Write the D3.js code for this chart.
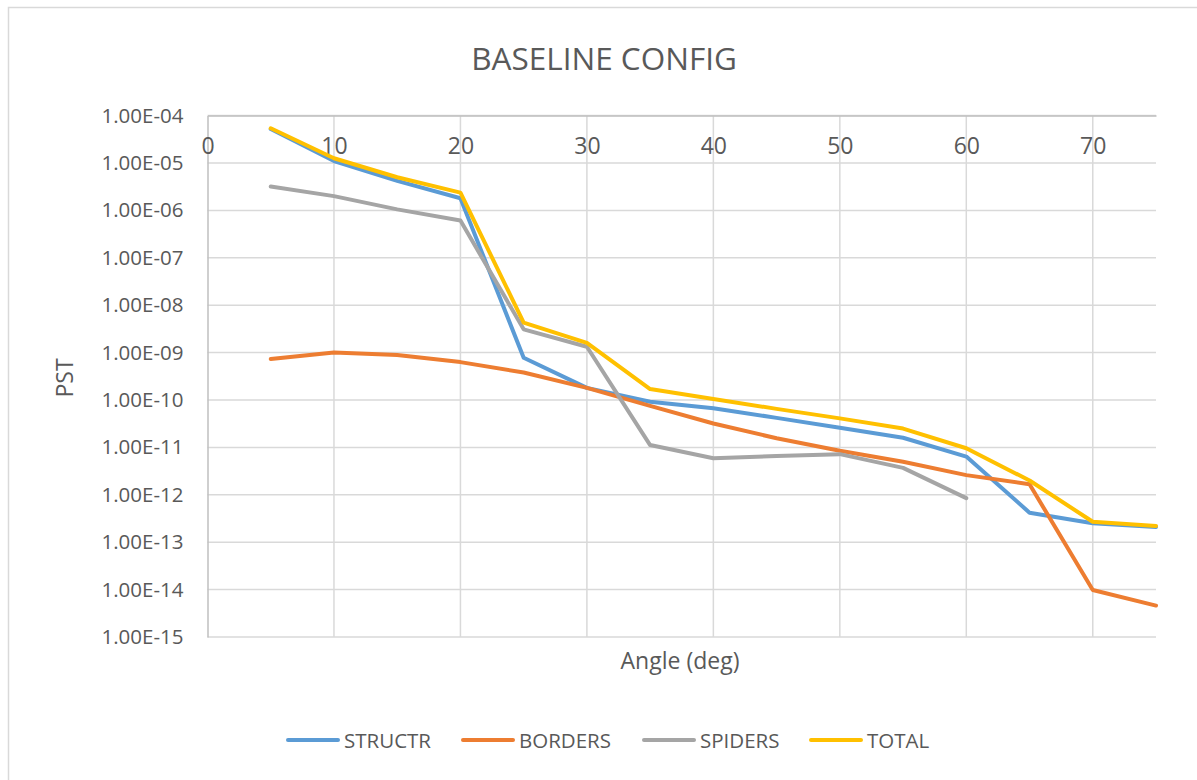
<!DOCTYPE html>
<html>
<head>
<meta charset="utf-8">
<script src="https://cdn.jsdelivr.net/npm/d3@7"></script>
<style>
  html, body { margin: 0; padding: 0; background: #fff; }
  svg { display: block; font-family: "Open Sans", "Liberation Sans", sans-serif; }
</style>
</head>
<body>
<svg id="chart" width="1197" height="780"></svg>
<script>
// Angles (deg) at which PST was evaluated
const angles = [5, 10, 15, 20, 25, 30, 35, 40, 45, 50, 55, 60, 65, 70, 75];

// PST contributions per source
const structr = [5.2e-5, 1.1e-5, 4.2e-6, 1.8e-6, 7.8e-10, 1.8e-10, 9.2e-11, 6.7e-11, 4.2e-11, 2.6e-11, 1.6e-11, 6.4e-12, 4.2e-13, 2.5e-13, 2.1e-13];
const borders = [7.3e-10, 1.0e-9, 8.9e-10, 6.3e-10, 3.8e-10, 1.8e-10, 7.5e-11, 3.2e-11, 1.56e-11, 8.5e-12, 5.0e-12, 2.6e-12, 1.67e-12, 9.8e-15, 4.6e-15];
const spiders = [3.2e-6, 2.0e-6, 1.05e-6, 6.1e-7, 3.1e-9, 1.33e-9, 1.12e-11, 5.9e-12, 6.6e-12, 7.2e-12, 3.7e-12, 8.5e-13, null, null, null];
const total   = [5.4e-5, 1.26e-5, 5.0e-6, 2.37e-6, 4.3e-9, 1.6e-9, 1.7e-10, 1.05e-10, 6.5e-11, 4.1e-11, 2.5e-11, 9.6e-12, 2.0e-12, 2.7e-13, 2.2e-13];

const seriesNames  = ["STRUCTR", "BORDERS", "SPIDERS", "TOTAL"];
const seriesColors = ["#5B9BD5", "#ED7D31", "#A5A5A5", "#FFC000"];
const seriesValues = [structr, borders, spiders, total];

const xTicks = [0, 10, 20, 30, 40, 50, 60, 70];
const yTicks = [1e-4, 1e-5, 1e-6, 1e-7, 1e-8, 1e-9, 1e-10, 1e-11, 1e-12, 1e-13, 1e-14, 1e-15];

const svg = d3.select("#chart");
const textColor = "#595959";
const gridColor = "#d9d9d9";

// Chart frame
svg.append("rect")
  .attr("x", 8.5).attr("y", 7.5)
  .attr("width", 1200).attr("height", 800)
  .attr("fill", "#fff")
  .attr("stroke", "#d9d9d9").attr("stroke-width", 1.5);

const x = d3.scaleLinear().domain([0, 75]).range([207.5, 1156]);
const y = d3.scaleLog().domain([1e-15, 1e-4]).range([637, 115.6]);

// Scientific label: 1.00E-04
const sci = v => {
  const s = d3.format(".2e")(v);           // e.g. 1.00e-4
  const [m, e] = s.split("e");
  const sign = e[0] === "-" ? "-" : "+";
  const digits = e.replace(/^[-+]/, "").padStart(2, "0");
  return m + "E" + sign + digits;
};

// Horizontal gridlines
svg.append("g")
  .selectAll("line")
  .data(yTicks)
  .join("line")
  .attr("x1", x(0)).attr("x2", x(75))
  .attr("y1", d => y(d)).attr("y2", d => y(d))
  .attr("stroke", gridColor).attr("stroke-width", 1.5);

// Vertical gridlines
svg.append("g")
  .selectAll("line")
  .data(xTicks.filter(d => d > 0))
  .join("line")
  .attr("x1", d => x(d)).attr("x2", d => x(d))
  .attr("y1", y(1e-4)).attr("y2", y(1e-15))
  .attr("stroke", gridColor).attr("stroke-width", 1.5);

// Value axis (left)
const yAxis = svg.append("g")
  .attr("transform", `translate(${x(0)},0)`)
  .call(d3.axisLeft(y).tickValues(yTicks).tickFormat(sci).tickSize(0).tickPadding(24));
yAxis.select(".domain").attr("stroke", "#bfbfbf").attr("stroke-width", 1.5);
yAxis.selectAll("text")
  .attr("fill", textColor)
  .style("font-size", "20.5px")
  .style("font-family", "'Open Sans', sans-serif");

// Category axis crossing at the top of the value range
const xAxis = svg.append("g")
  .attr("transform", `translate(0,${y(1e-4)})`)
  .call(d3.axisBottom(x).tickValues(xTicks).tickFormat(d3.format("d")).tickSize(0).tickPadding(22));
xAxis.select(".domain").attr("stroke", "#bfbfbf").attr("stroke-width", 1.5);
xAxis.selectAll("text")
  .attr("fill", textColor)
  .style("font-size", "23px")
  .style("font-family", "'Open Sans', sans-serif");

// Series lines
const line = d3.line()
  .defined(d => d.v != null)
  .x(d => x(d.a))
  .y(d => y(d.v));

seriesValues.forEach((vals, i) => {
  const pts = angles.map((a, j) => ({ a, v: vals[j] }));
  svg.append("path")
    .datum(pts)
    .attr("d", line)
    .attr("fill", "none")
    .attr("stroke", seriesColors[i])
    .attr("stroke-width", 4)
    .attr("stroke-linejoin", "round")
    .attr("stroke-linecap", "round");
});

// Title
svg.append("text")
  .attr("x", 604).attr("y", 70)
  .attr("text-anchor", "middle")
  .attr("fill", textColor)
  .style("font-size", "31.5px")
  .text("BASELINE CONFIG");

// Axis titles
svg.append("text")
  .attr("x", 680).attr("y", 669)
  .attr("text-anchor", "middle")
  .attr("fill", textColor)
  .style("font-size", "23px")
  .text("Angle (deg)");

svg.append("text")
  .attr("transform", "translate(73,378) rotate(-90)")
  .attr("text-anchor", "middle")
  .attr("fill", textColor)
  .style("font-size", "23px")
  .text("PST");

// Legend
const legendX = [288, 463, 644, 811];
const legend = svg.append("g");
seriesNames.forEach((name, i) => {
  const g = legend.append("g").attr("transform", `translate(${legendX[i]},740)`);
  g.append("line")
    .attr("x1", 0).attr("x2", 50)
    .attr("stroke", seriesColors[i])
    .attr("stroke-width", 4)
    .attr("stroke-linecap", "round");
  g.append("text")
    .attr("x", 56).attr("y", 8)
    .attr("fill", textColor)
    .style("font-size", "20.5px")
    .text(name);
});
</script>
</body>
</html>
